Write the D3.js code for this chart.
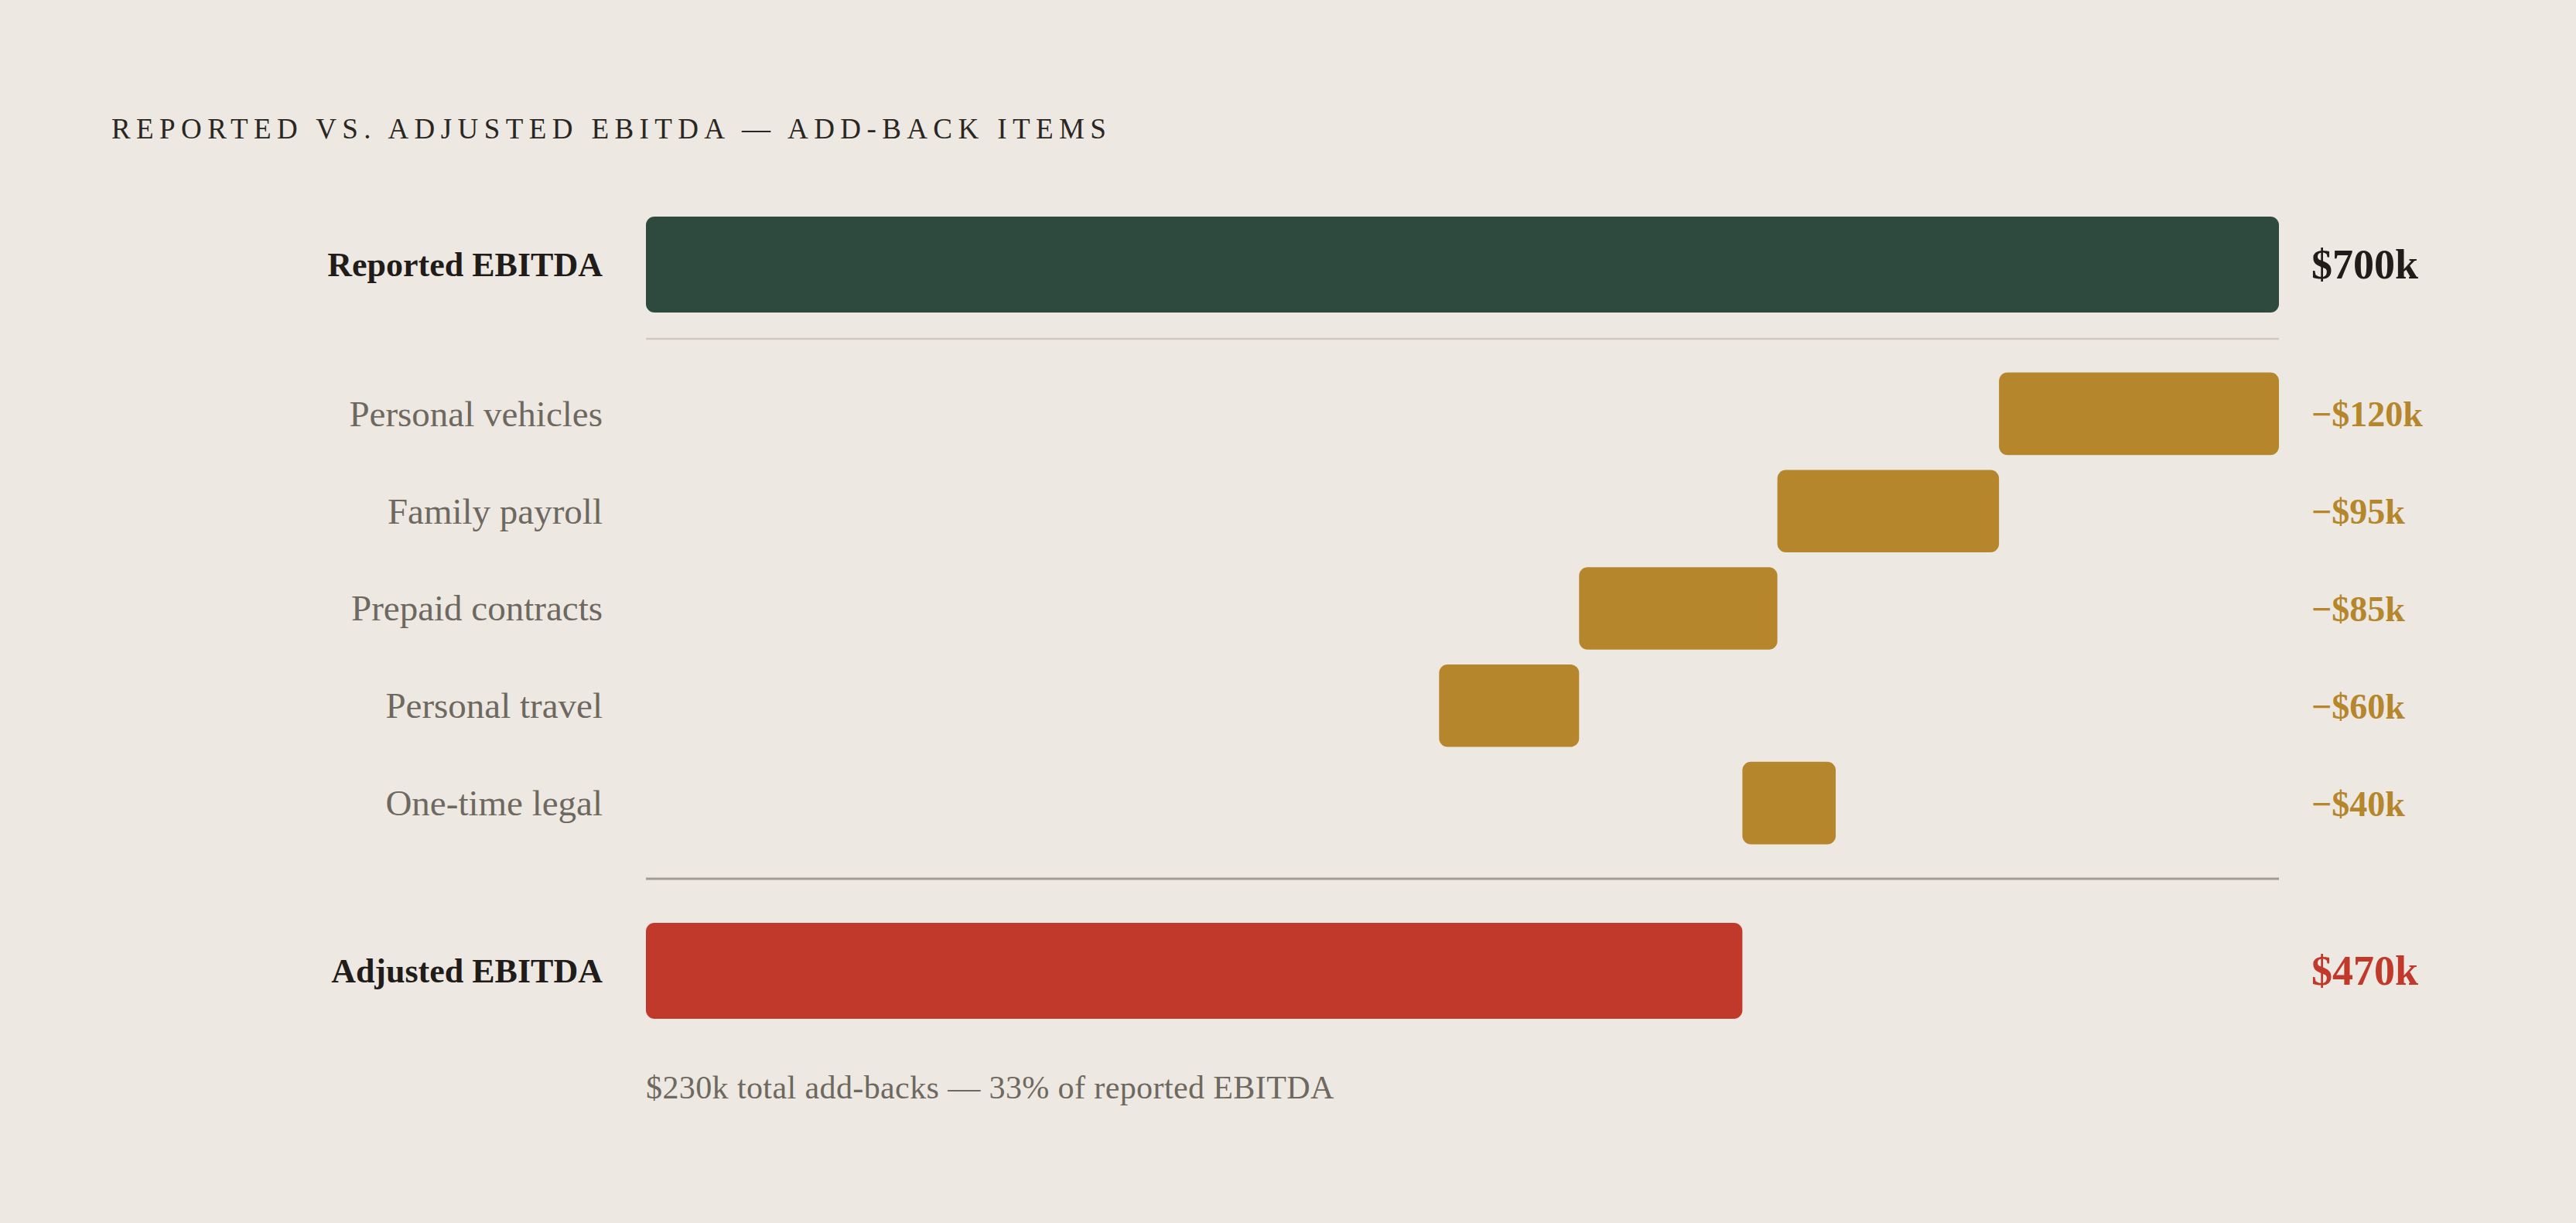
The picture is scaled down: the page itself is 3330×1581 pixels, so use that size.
<!DOCTYPE html>
<html>
<head>
<meta charset="utf-8">
<script src="https://cdn.jsdelivr.net/npm/d3@7"></script>
<style>
  html, body { margin: 0; padding: 0; background: #ede9e2; }
  svg { display: block; }
</style>
</head>
<body>
<svg id="chart" width="3330" height="1581"></svg>
<script>
// values in $k
const reportedLabel = 'Reported EBITDA'
const reportedValue = 700
const adjustedLabel = 'Adjusted EBITDA'
const adjustedValue = 470
const itemNames = ['Personal vehicles', 'Family payroll', 'Prepaid contracts', 'Personal travel', 'One-time legal']
const itemValues = [120, 95, 85, 60, 40]
// where each add-back bar starts, as drawn
const itemStarts = [580, 485, 400, 340, 470]
const totalAddBacks = 230
const addBackPct = 33

const svg = d3.select('#chart')
const colors = { green: '#2e4a3e', gold: '#b5862b', red: '#c0392b', ink: '#1f1c19', muted: '#6d6860' }

const x = d3.scaleLinear().domain([0, reportedValue]).range([835, 2946])
const yItems = d3
  .scaleBand()
  .domain(itemNames)
  .range([472, 1101])
  .paddingInner(0.153)
  .paddingOuter(0.0765)

const barH = 124
const reportedY = 280
const adjustedY = 1193
const labelX = x(0) - 56
const valueX = x(reportedValue) + 42
const fmt = (v) => '$' + v + 'k'

// title
svg.append('text')
  .attr('x', 144)
  .attr('y', 179)
  .attr('font-family', 'Liberation Serif')
  .attr('font-size', 37)
  .attr('letter-spacing', 7.4)
  .attr('fill', '#2a2622')
  .text('REPORTED VS. ADJUSTED EBITDA — ADD-BACK ITEMS')

// reported bar
svg.append('rect')
  .attr('x', x(0))
  .attr('y', reportedY)
  .attr('width', x(reportedValue) - x(0))
  .attr('height', barH)
  .attr('rx', 11)
  .attr('fill', colors.green)

svg.append('text')
  .attr('x', labelX)
  .attr('y', reportedY + barH / 2)
  .attr('dy', '0.34em')
  .attr('text-anchor', 'end')
  .attr('font-family', 'Liberation Serif')
  .attr('font-weight', 'bold')
  .attr('font-size', 44)
  .attr('fill', colors.ink)
  .text(reportedLabel)

svg.append('text')
  .attr('x', valueX)
  .attr('y', reportedY + barH / 2)
  .attr('dy', '0.34em')
  .attr('font-family', 'Liberation Serif')
  .attr('font-weight', 'bold')
  .attr('font-size', 54)
  .attr('fill', colors.ink)
  .text(fmt(reportedValue))

// separator under reported
svg.append('line')
  .attr('x1', x(0)).attr('x2', x(reportedValue))
  .attr('y1', 438).attr('y2', 438)
  .attr('stroke', '#cfc9c0')
  .attr('stroke-width', 2.5)

// add-back items
const items = itemNames.map((name, i) => ({ name, value: itemValues[i], start: itemStarts[i] }))

const rows = svg.selectAll('.item')
  .data(items)
  .enter()
  .append('g')
  .attr('class', 'item')
  .attr('transform', (d) => 'translate(0,' + yItems(d.name) + ')')

rows.append('rect')
  .attr('x', (d) => x(d.start))
  .attr('width', (d) => x(d.start + d.value) - x(d.start))
  .attr('height', yItems.bandwidth())
  .attr('rx', 11)
  .attr('fill', colors.gold)

rows.append('text')
  .attr('x', labelX)
  .attr('y', yItems.bandwidth() / 2)
  .attr('dy', '0.34em')
  .attr('text-anchor', 'end')
  .attr('font-family', 'Liberation Serif')
  .attr('font-size', 47)
  .attr('fill', colors.muted)
  .text((d) => d.name)

rows.append('text')
  .attr('x', valueX)
  .attr('y', yItems.bandwidth() / 2)
  .attr('dy', '0.36em')
  .attr('font-family', 'Liberation Serif')
  .attr('font-weight', 'bold')
  .attr('font-size', 46)
  .attr('fill', colors.gold)
  .text((d) => '\u2212' + fmt(d.value))

// line above adjusted
svg.append('line')
  .attr('x1', x(0)).attr('x2', x(reportedValue))
  .attr('y1', 1136).attr('y2', 1136)
  .attr('stroke', '#a29c93')
  .attr('stroke-width', 3)

// adjusted bar
svg.append('rect')
  .attr('x', x(0))
  .attr('y', adjustedY)
  .attr('width', x(adjustedValue) - x(0))
  .attr('height', barH)
  .attr('rx', 11)
  .attr('fill', colors.red)

svg.append('text')
  .attr('x', labelX)
  .attr('y', adjustedY + barH / 2)
  .attr('dy', '0.34em')
  .attr('text-anchor', 'end')
  .attr('font-family', 'Liberation Serif')
  .attr('font-weight', 'bold')
  .attr('font-size', 44)
  .attr('fill', colors.ink)
  .text(adjustedLabel)

svg.append('text')
  .attr('x', valueX)
  .attr('y', adjustedY + barH / 2)
  .attr('dy', '0.34em')
  .attr('font-family', 'Liberation Serif')
  .attr('font-weight', 'bold')
  .attr('font-size', 54)
  .attr('fill', colors.red)
  .text(fmt(adjustedValue))

// footnote
svg.append('text')
  .attr('x', x(0))
  .attr('y', 1420)
  .attr('font-family', 'Liberation Serif')
  .attr('font-size', 42)
  .attr('letter-spacing', 0.4)
  .attr('fill', colors.muted)
  .text(fmt(totalAddBacks) + ' total add-backs \u2014 ' + addBackPct + '% of reported EBITDA')
</script>
</body>
</html>
